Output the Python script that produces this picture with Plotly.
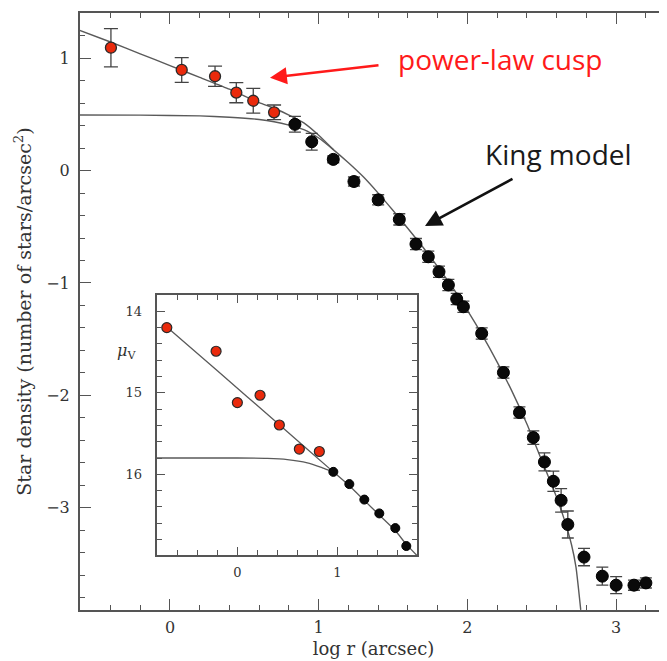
import plotly.graph_objects as go

# ---------------- data ----------------
# main panel: log r (arcsec) vs log star density
red_logr = [-0.397, 0.079, 0.303, 0.446, 0.56, 0.70]
red_dens = [1.094, 0.896, 0.84, 0.694, 0.622, 0.519]
red_err = [0.17, 0.11, 0.09, 0.09, 0.11, 0.065]

blk_logr = [0.84, 0.953, 1.098, 1.237, 1.40, 1.542, 1.654, 1.737, 1.809, 1.872,
            1.928, 1.973, 2.096, 2.242, 2.35, 2.443, 2.518, 2.578, 2.63, 2.675,
            2.784, 2.907, 3.0, 3.12, 3.20]
blk_dens = [0.412, 0.257, 0.10, -0.097, -0.26, -0.434, -0.654, -0.767, -0.90, -1.018,
            -1.143, -1.212, -1.45, -1.797, -2.153, -2.376, -2.593, -2.765, -2.935, -3.15,
            -3.44, -3.61, -3.69, -3.69, -3.67]
blk_err = [0.07, 0.075, 0.03, 0.04, 0.045, 0.05, 0.05, 0.05, 0.05, 0.05,
           0.05, 0.05, 0.05, 0.05, 0.05, 0.06, 0.08, 0.09, 0.105, 0.12,
           0.077, 0.08, 0.076, 0.045, 0.045]

# model curves (main panel)
king_logr = [-0.61, -0.2, 0.2, 0.4, 0.6, 0.7, 0.8, 0.9, 1.0, 1.1, 1.2, 1.3, 1.4, 1.5,
             1.6, 1.7, 1.8, 1.9, 2.0, 2.1, 2.2, 2.3, 2.4, 2.5, 2.6, 2.65, 2.7, 2.73, 2.762]
king_dens = [0.495, 0.494, 0.487, 0.475, 0.455, 0.435, 0.405, 0.365, 0.29, 0.185, 0.07,
             -0.055, -0.20, -0.355, -0.515, -0.68, -0.855, -1.04, -1.245, -1.465, -1.705,
             -1.965, -2.255, -2.58, -2.91, -3.10, -3.33, -3.53, -3.91]
cusp_logr = [-0.61, -0.4, -0.2, 0.0, 0.2, 0.4, 0.6, 0.7, 0.8, 0.9, 1.0, 1.1]
cusp_dens = [1.25, 1.145, 1.04, 0.935, 0.83, 0.725, 0.605, 0.555, 0.495, 0.425, 0.315, 0.185]

# inset: log r vs surface brightness mu_V
in_red_logr = [-0.706, -0.213, 0.0, 0.227, 0.42, 0.62, 0.82]
in_red_mu = [14.20, 14.49, 15.12, 15.03, 15.395, 15.69, 15.72]
in_blk_logr = [0.96, 1.12, 1.27, 1.42, 1.58, 1.69]
in_blk_mu = [15.97, 16.12, 16.31, 16.48, 16.66, 16.88]
in_cusp_logr = [-0.70, -0.2, 0.4, 0.96, 1.12, 1.27, 1.42, 1.58, 1.69, 1.80]
in_cusp_mu = [14.20, 14.73, 15.37, 15.97, 16.14, 16.32, 16.50, 16.69, 16.86, 17.0]
in_king_logr = [-0.81, 0.0, 0.3, 0.5, 0.7, 0.85, 0.96]
in_king_mu = [15.80, 15.80, 15.805, 15.82, 15.86, 15.92, 15.97]

main_xticks = [0, 1, 2, 3]
main_yticks = [-3, -2, -1, 0, 1]
inset_xticks = [0, 1]
inset_yticks = [14, 15, 16]

# ---------------- layout helpers ----------------
OFF = 8  # page body margin around the plot div
W, H = 667 - OFF, 661 - OFF
L, R, T, B = 72, 0, 5, 51
PW, PH = W - L - R, H - T - B


def px(xp):
    """page pixel x -> paper fraction"""
    return (xp - OFF - L) / PW


def py(yp):
    """page pixel y -> paper fraction"""
    return (H - B - (yp - OFF)) / PH


SERIF = "DejaVu Serif"
FRAME = "#555555"
LINE = "#5a5a5a"
TXT = "#333333"
RED = "#ea2a0c"

fig = go.Figure()

# main curves
fig.add_trace(go.Scatter(x=king_logr, y=king_dens, mode="lines",
                         line=dict(color=LINE, width=1.4, shape="spline", smoothing=0.5),
                         hoverinfo="skip", showlegend=False))
fig.add_trace(go.Scatter(x=cusp_logr, y=cusp_dens, mode="lines",
                         line=dict(color=LINE, width=1.4, shape="spline", smoothing=0.5),
                         hoverinfo="skip", showlegend=False))
# main points
fig.add_trace(go.Scatter(x=blk_logr, y=blk_dens, mode="markers",
                         marker=dict(color="#0a0a0a", size=12, line=dict(color="#000", width=1)),
                         error_y=dict(type="data", array=blk_err, color="#444", thickness=1.3, width=6),
                         showlegend=False))
fig.add_trace(go.Scatter(x=red_logr, y=red_dens, mode="markers",
                         marker=dict(color=RED, size=11, line=dict(color="#2a2a2a", width=1.3)),
                         error_y=dict(type="data", array=red_err, color="#444", thickness=1.3, width=7),
                         showlegend=False))
# invisible trace to carry the right-hand tick stubs
fig.add_trace(go.Scatter(x=blk_logr, y=blk_dens, xaxis="x", yaxis="y3", mode="markers",
                         marker=dict(opacity=0), hoverinfo="skip", showlegend=False))

# inset traces
fig.add_trace(go.Scatter(x=in_king_logr, y=in_king_mu, xaxis="x2", yaxis="y2", mode="lines",
                         line=dict(color=LINE, width=1.3, shape="spline", smoothing=0.6),
                         hoverinfo="skip", showlegend=False))
fig.add_trace(go.Scatter(x=in_cusp_logr, y=in_cusp_mu, xaxis="x2", yaxis="y2", mode="lines",
                         line=dict(color=LINE, width=1.3, shape="spline", smoothing=0.4),
                         hoverinfo="skip", showlegend=False))
fig.add_trace(go.Scatter(x=in_blk_logr, y=in_blk_mu, xaxis="x2", yaxis="y2", mode="markers",
                         marker=dict(color="#0a0a0a", size=9, line=dict(color="#000", width=1)),
                         showlegend=False))
fig.add_trace(go.Scatter(x=in_red_logr, y=in_red_mu, xaxis="x2", yaxis="y2", mode="markers",
                         marker=dict(color=RED, size=10, line=dict(color="#2a2a2a", width=1.2)),
                         showlegend=False))

axis_common = dict(showgrid=False, zeroline=False, showline=True, linecolor=FRAME, linewidth=2,
                   ticks="inside", tickcolor=FRAME, tickwidth=1.3, mirror="ticks")

inset_x0, inset_x1 = 156.7, 417.3
inset_y0, inset_y1 = 295, 555

fig.update_layout(
    width=W, height=H,
    margin=dict(l=L, r=R, t=T, b=B, autoexpand=False),
    paper_bgcolor="white", plot_bgcolor="white",
    xaxis=dict(**axis_common, range=[-0.605, 3.342], tickvals=main_xticks, ticklen=11,
               minor=dict(dtick=0.2, ticklen=5, ticks="inside", tickcolor=FRAME, tickwidth=1.2),
               tickfont=dict(family=SERIF, size=16, color=TXT), ticklabelstandoff=2,
               title=dict(text="log r (arcsec)", font=dict(family=SERIF, size=18, color=TXT), standoff=6),
               automargin=False, domain=[0, 1]),
    yaxis=dict(**{**axis_common, "mirror": False}, range=[-3.911, 1.403], tickvals=main_yticks, ticklen=11,
               minor=dict(dtick=0.2, ticklen=5, ticks="inside", tickcolor=FRAME, tickwidth=1.2),
               tickfont=dict(family=SERIF, size=16, color=TXT), ticklabelstandoff=5,
               title=dict(text="Star density (number of stars/arcsec<sup>2</sup>)",
                          font=dict(family=SERIF, size=19, color=TXT), standoff=10),
               automargin=False, domain=[0, 1]),
    yaxis3=dict(overlaying="y", matches="y", side="right", anchor="free", position=1,
                showline=False, showgrid=False, zeroline=False, ticks="inside", ticklen=5,
                tickcolor=FRAME, tickwidth=1.3, tickvals=main_yticks, showticklabels=False),
    xaxis2=dict(**axis_common, anchor="y2", domain=[px(inset_x0), px(inset_x1)],
                range=[-0.807, 1.80], tickvals=inset_xticks, ticklen=8,
                minor=dict(dtick=0.2, ticklen=5, ticks="inside", tickcolor=FRAME, tickwidth=1.1),
                tickfont=dict(family=SERIF, size=13, color=TXT), ticklabelstandoff=4),
    yaxis2=dict(**axis_common, anchor="x2", domain=[py(inset_y1), py(inset_y0)],
                range=[16.99, 13.80], tickvals=inset_yticks, ticklen=8,
                minor=dict(dtick=0.2, ticklen=5, ticks="inside", tickcolor=FRAME, tickwidth=1.1),
                tickfont=dict(family=SERIF, size=13, color=TXT), ticklabelstandoff=10),
)

annotations = [
    dict(text="power-law cusp", x=px(396), y=py(58.5), xref="paper", yref="paper",
         xanchor="left", yanchor="middle", showarrow=False,
         font=dict(family="Open Sans", size=28, color="#ff1a1a")),
    dict(text="King model", x=px(483), y=py(153.5), xref="paper", yref="paper",
         xanchor="left", yanchor="middle", showarrow=False,
         font=dict(family="Open Sans", size=28, color="#1a1a1a")),
    dict(text="", x=px(270), y=py(77.7), xref="paper", yref="paper",
         showarrow=True, ax=110, ay=-12.7, arrowhead=2, arrowsize=1.3, arrowwidth=2.6,
         arrowcolor="#ff1a1a"),
    dict(text="", x=px(425), y=py(226), xref="paper", yref="paper",
         showarrow=True, ax=89, ay=-48, arrowhead=2, arrowsize=1.3, arrowwidth=2.6,
         arrowcolor="#111111"),
    dict(text="<i>μ</i><sub>V</sub>", x=px(126), y=py(351.7), xref="paper", yref="paper",
         xanchor="center", yanchor="middle", showarrow=False,
         font=dict(family=SERIF, size=16, color=TXT)),
]
fig.update_layout(annotations=annotations)

fig.write_html("out.html")
